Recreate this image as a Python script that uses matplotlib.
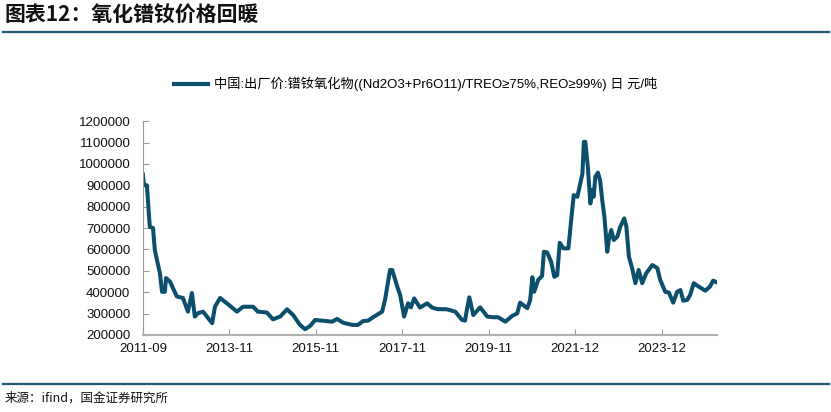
import numpy as np
import matplotlib
matplotlib.use("Agg")
import matplotlib.pyplot as plt
from matplotlib.lines import Line2D

plt.rcParams['font.family'] = ['Liberation Sans', 'Noto Sans CJK SC', 'DejaVu Sans']

# period index (equal spaced observations) and price, yuan/ton
period = [0, 0.3, 1.1, 1.9, 2.8, 3.3, 3.9, 4.7, 5.3, 6.1, 6.4, 7.5, 8.3, 9.4, 11.1, 12.5,
          13.6, 14.4, 15.3, 16.7, 19.2, 20, 21.4, 23.3, 26.1, 27.8, 30.6, 31.9, 34.4, 36.1,
          38.1, 40, 41.7, 43.6, 45, 46.4, 47.8, 49.7, 52.5, 53.9, 55.6, 58.1, 59.7, 61.1,
          62.5, 63.9, 66.4, 67.2, 68.6, 69.2, 70.6, 71.4, 72.5, 73.6, 74.4, 75.3, 76.9,
          78.9, 80.3, 81.7, 84.4, 86.7, 88.6, 89.4, 90, 90.6, 91.7, 93.6, 95.6, 97.2, 98.6,
          100.6, 102.5, 103.9, 104.7, 106.7, 107.5, 108.1, 108.6, 109.7, 110.8, 111.3,
          112.2, 113.3, 114.2, 115, 115.7, 116.7, 118.1, 119.2, 119.6, 120.6, 121.3, 122,
          122.4, 122.8, 123.5, 124.2, 124.7, 125.1, 125.6, 126.3, 126.9, 127.5, 128.1,
          128.9, 129.3, 130, 130.7, 131.7, 132.5, 133.6, 134.2, 134.9, 135.8, 136.7,
          137.6, 138.6, 139.7, 141.4, 142.8, 143.6, 145, 146, 147.2, 148.3, 149.2, 150,
          151.1, 151.9, 152.9, 154.3, 156.1, 157.4, 158.3, 159.4]
price_k = [950, 900, 900, 706, 700, 597, 550, 490, 402, 402, 466, 450, 420, 380, 373, 309,
           396, 286, 302, 309, 255, 332, 373, 348, 309, 332, 332, 309, 305, 273,
           286, 320, 293, 247, 227, 242, 270, 267, 262, 275, 257, 247, 247, 265,
           267, 283, 309, 364, 504, 504, 426, 387, 286, 348, 329, 371, 328,
           348, 328, 321, 320, 309, 270, 267, 325, 376, 293, 329, 286, 283, 283,
           262, 289, 301, 351, 325, 364, 470, 402, 457, 476, 589,
           586, 543, 472, 480, 631, 605, 605, 792, 854, 846, 901, 955,
           1103, 1103, 987, 815, 878, 846, 940, 959, 924, 831, 753,
           589, 644, 691, 644, 660, 706, 745, 706, 566, 512, 442,
           504, 442, 488, 527, 512, 457, 402, 398, 351, 402, 410, 360,
           364, 387, 442, 426, 407, 426, 454, 445]
price = np.array(price_k) * 1000

tick_pos = [0, 24, 48, 72, 96, 120, 144]
tick_labels = ['2011-09', '2013-11', '2015-11', '2017-11', '2019-11', '2021-12', '2023-12']
series_name = '中国:出厂价:镨钕氧化物((Nd2O3+Pr6O11)/TREO≥75%,REO≥99%) 日 元/吨'

line_color = '#0b4f6c'
rule_color = '#1f5676'

fig = plt.figure(figsize=(8.31, 4.12), dpi=100)
ax = fig.add_axes([0.172, 0.187, 0.691, 0.519])

ax.plot(period, price, color=line_color, lw=2.9, solid_joinstyle='round')
ax.set_xlim(0, 159.4)
ax.set_ylim(200000, 1200000)
ax.set_yticks(np.arange(200000, 1200001, 100000))
ax.set_yticklabels([str(v) for v in range(200000, 1200001, 100000)])
ax.set_xticks(tick_pos)
ax.set_xticklabels(tick_labels)
ax.tick_params(axis='both', direction='in', length=4, color='#9a9a9a', labelsize=9.5,
               labelcolor='#111111')
ax.tick_params(axis='x', pad=6)
ax.tick_params(axis='y', pad=9)
for s in ['top', 'right']:
    ax.spines[s].set_visible(False)
ax.spines['left'].set_color('#9a9a9a')
ax.spines['bottom'].set_color('#b0b0b0')
ax.spines['bottom'].set_linewidth(1.5)

handle = Line2D([], [], color=line_color, lw=3)
fig.legend([handle], [series_name], loc='center', bbox_to_anchor=(0.5, 0.796),
           frameon=False, fontsize=9.5, handlelength=2.6, handletextpad=0.4)

# header / footer
fig.text(0.006, 0.962, '图表12：氧化镨钕价格回暖', fontsize=15, fontweight='bold',
         style='italic', family=['Noto Sans CJK SC'], va='center', ha='left', color='#111111')
fig.add_artist(Line2D([0.004, 0.997], [0.922, 0.922], color=rule_color, lw=1.6))
fig.add_artist(Line2D([0.004, 0.997], [0.068, 0.068], color=rule_color, lw=1.6))
fig.text(0.006, 0.033, '来源：ifind，国金证券研究所', fontsize=9, family=['Noto Sans CJK SC'],
         va='center', ha='left', color='#111111')

fig.savefig('out.png', dpi=100)
